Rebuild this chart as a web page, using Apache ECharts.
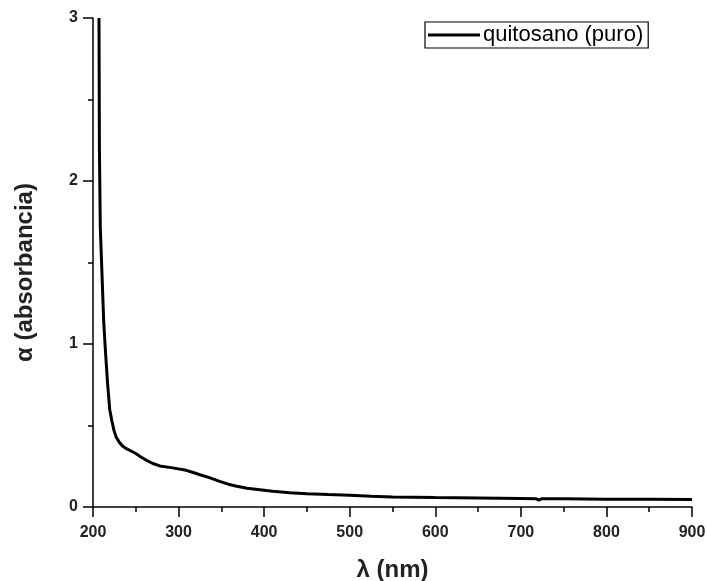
<!DOCTYPE html>
<html>
<head>
<meta charset="utf-8">
<script src="https://cdn.jsdelivr.net/npm/echarts@6/dist/echarts.min.js"></script>
<style>html,body{margin:0;padding:0;background:#fff;}#c{width:707px;height:581px;}</style>
</head>
<body>
<div id="c"></div>
<script>
const seriesName = 'quitosano (puro)';
const wavelength = [207, 207.5, 208.5, 210.5, 212.5, 214.5, 217, 219.5, 222, 224.5, 227, 231, 235, 239, 245, 250, 256, 262, 270, 278, 293, 309, 318, 325, 336, 348, 358, 368, 380, 395, 410, 430, 450, 475, 500, 525, 550, 600, 650, 700, 718, 721, 724, 750, 800, 850, 900];
const absorbance = [3.0, 2.2, 1.72, 1.43, 1.14, 0.96, 0.76, 0.60, 0.53, 0.47, 0.43, 0.395, 0.372, 0.358, 0.342, 0.328, 0.307, 0.288, 0.267, 0.252, 0.24, 0.225, 0.21, 0.198, 0.18, 0.157, 0.14, 0.127, 0.115, 0.106, 0.097, 0.088, 0.082, 0.076, 0.072, 0.066, 0.062, 0.058, 0.055, 0.052, 0.05, 0.042, 0.05, 0.05, 0.048, 0.047, 0.046];
const xTicks = {min: 200, max: 900, interval: 100};
const yTicks = {min: 0, max: 3, interval: 1};
const xTitle = 'λ (nm)';
const yTitle = 'α (absorbancia)';

const data = wavelength.map((w, i) => [w, absorbance[i]]);
const chart = echarts.init(document.getElementById('c'), null, {renderer: 'canvas'});
const axisCommon = {
  axisLine: {show: true, onZero: false, lineStyle: {color: '#000', width: 1.5}},
  axisTick: {show: true, inside: false, length: 10, lineStyle: {color: '#000', width: 1.5}},
  minorTick: {show: true, splitNumber: 2, length: 5, lineStyle: {color: '#000', width: 1.5}},
  splitLine: {show: false},
  axisLabel: {color: '#222', fontSize: 16, fontWeight: 'bold', fontFamily: 'Arial, Liberation Sans'},
  nameTextStyle: {color: '#222', fontSize: 24, fontWeight: 'bold', fontFamily: 'Arial, Liberation Sans'}
};
chart.setOption({
  animation: false,
  backgroundColor: '#fff',
  grid: {left: 93, right: 15, top: 18, bottom: 74, containLabel: false, outerBoundsMode: 'none'},
  legend: {
    left: 425, top: 22, orient: 'horizontal',
    data: [{name: seriesName, icon: 'rect'}],
    borderColor: '#000', borderWidth: 1.2, borderRadius: 0,
    padding: [2, 5, 2, 3],
    itemWidth: 52, itemHeight: 3, itemGap: 4,
    textStyle: {color: '#000', fontSize: 22, fontFamily: 'Arial, Liberation Sans', padding: [0, 0, 0, -2]}
  },
  xAxis: Object.assign({}, axisCommon, {
    type: 'value', min: xTicks.min, max: xTicks.max, interval: xTicks.interval,
    name: xTitle, nameLocation: 'middle', nameGap: 51,
    axisLabel: Object.assign({}, axisCommon.axisLabel, {margin: 18})
  }),
  yAxis: Object.assign({}, axisCommon, {
    type: 'value', min: yTicks.min, max: yTicks.max, interval: yTicks.interval,
    name: yTitle, nameLocation: 'middle', nameGap: 56,
    nameTextStyle: Object.assign({}, axisCommon.nameTextStyle, {padding: [0, 20, 0, 0]}),
    axisLabel: Object.assign({}, axisCommon.axisLabel, {margin: 15})
  }),
  series: [{
    name: seriesName, type: 'line', data: data,
    symbol: 'none', showSymbol: false, clip: true,
    lineStyle: {color: '#000', width: 3},
    itemStyle: {color: '#000'}
  }]
});
</script>
</body>
</html>
